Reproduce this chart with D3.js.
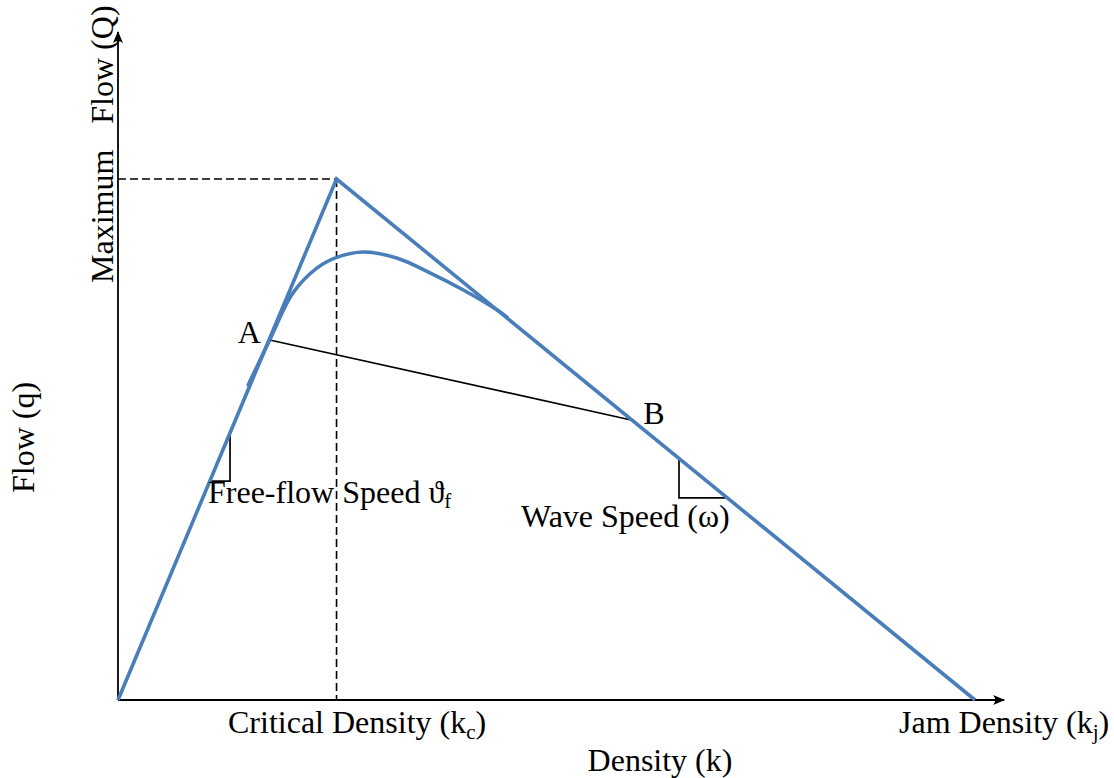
<!DOCTYPE html>
<html>
<head>
<meta charset="utf-8">
<script src="https://cdn.jsdelivr.net/npm/d3@7"></script>
<style>
  html, body { margin: 0; padding: 0; background: #fff; }
  svg text { font-family: "Liberation Serif", "Times New Roman", serif; fill: #000; }
</style>
</head>
<body>
<svg id="chart" width="1114" height="778"></svg>
<script>
// Triangular fundamental diagram (density k vs flow q)
const densityBreaks = [0, 25.5, 100];        // 0, critical density kc, jam density kj
const flowBreaks    = [0, 100, 0];           // flow at those densities (peak = maximum flow Q)

// Smooth (observed) flow-density curve
const curveDensity = [15.2, 17.7, 20.4, 23.2, 25.6, 28.6, 32.6, 36.4, 40.3, 44.2, 45.4];
const curveFlow    = [60.5, 69.1, 78.1, 82.9, 85.0, 86.0, 84.8, 82.0, 78.7, 74.9, 73.5];

// Shock line between states A and B
const stateNames   = ["A", "B"];
const stateDensity = [17.7, 60.0];
const stateFlow    = [69.1, 53.7];

// Slope markers: free-flow speed and wave speed
const slopeDensity = [13.07, 65.46];
const slopeFlow    = [42.0, 38.8];

const xLabel = "Density (k)";
const yLabel = "Flow (q)";
const qmaxLabel = ["Maximum", "Flow (Q)"];

const svg = d3.select("#chart");
const x = d3.scaleLinear().domain([0, 100]).range([118, 975]);
const y = d3.scaleLinear().domain([0, 100]).range([700, 179]);

const blue = "#4a7ebb";

// arrow markers
const defs = svg.append("defs");
defs.append("marker")
  .attr("id", "arrow")
  .attr("viewBox", "0 0 12 10")
  .attr("refX", 11).attr("refY", 5)
  .attr("markerWidth", 12).attr("markerHeight", 10)
  .attr("markerUnits", "userSpaceOnUse")
  .attr("orient", "auto")
  .append("path")
  .attr("d", "M0,0 L12,5 L0,10 Q4,5 0,0 Z")
  .attr("fill", "#000");

// axes
svg.append("line")
  .attr("x1", x(0)).attr("y1", y(0))
  .attr("x2", x(103.4)).attr("y2", y(0))
  .attr("stroke", "#000").attr("stroke-width", 1.8)
  .attr("marker-end", "url(#arrow)");
svg.append("line")
  .attr("x1", x(0)).attr("y1", y(0))
  .attr("x2", x(0)).attr("y2", y(128.2))
  .attr("stroke", "#000").attr("stroke-width", 1.8)
  .attr("marker-end", "url(#arrow)");

// dashed guides to the peak
const kc = densityBreaks[1], qm = flowBreaks[1];
svg.append("line")
  .attr("x1", x(0)).attr("y1", y(qm))
  .attr("x2", x(kc)).attr("y2", y(qm))
  .attr("stroke", "#000").attr("stroke-width", 1.6)
  .attr("stroke-dasharray", "8,4");
svg.append("line")
  .attr("x1", x(kc)).attr("y1", y(qm))
  .attr("x2", x(kc)).attr("y2", y(0))
  .attr("stroke", "#000").attr("stroke-width", 1.6)
  .attr("stroke-dasharray", "8,4");

// shock line A-B
svg.append("line")
  .attr("x1", x(stateDensity[0])).attr("y1", y(stateFlow[0]))
  .attr("x2", x(stateDensity[1])).attr("y2", y(stateFlow[1]))
  .attr("stroke", "#000").attr("stroke-width", 1.7);

// slope markers
const vf = flowBreaks[1] / densityBreaks[1];
const w = flowBreaks[1] / (densityBreaks[2] - densityBreaks[1]);
{
  const k0 = slopeDensity[0], q0 = slopeFlow[0];
  const kOnLine = q0 / vf;
  svg.append("path")
    .attr("d", d3.line()([[x(kOnLine), y(q0)], [x(k0), y(q0)], [x(k0), y(vf * k0)]]))
    .attr("fill", "none").attr("stroke", "#000").attr("stroke-width", 1.7);
}
{
  const k0 = slopeDensity[1], q0 = slopeFlow[1];
  const kOnLine = densityBreaks[2] - q0 / w;
  svg.append("path")
    .attr("d", d3.line()([[x(k0), y(w * (densityBreaks[2] - k0))], [x(k0), y(q0)], [x(kOnLine), y(q0)]]))
    .attr("fill", "none").attr("stroke", "#000").attr("stroke-width", 1.7);
}

// triangular diagram
svg.append("path")
  .datum(densityBreaks.map((k, i) => [k, flowBreaks[i]]))
  .attr("d", d3.line().x(d => x(d[0])).y(d => y(d[1])))
  .attr("fill", "none").attr("stroke", blue).attr("stroke-width", 3.6)
  .attr("stroke-linejoin", "miter");

// smooth curve
svg.append("path")
  .datum(curveDensity.map((k, i) => [k, curveFlow[i]]))
  .attr("d", d3.line().x(d => x(d[0])).y(d => y(d[1])).curve(d3.curveCatmullRom.alpha(0.5)))
  .attr("fill", "none").attr("stroke", blue).attr("stroke-width", 3.6)
  .attr("stroke-linecap", "round");

// text
const fs = 32, sub = 21;
svg.append("text").attr("x", x(stateDensity[0]) - 32).attr("y", y(stateFlow[0]) + 3)
  .attr("font-size", fs).text(stateNames[0]);
svg.append("text").attr("x", x(stateDensity[1]) + 11).attr("y", y(stateFlow[1]) + 4)
  .attr("font-size", fs).text(stateNames[1]);

const ff = svg.append("text").attr("x", 208).attr("y", 503).attr("font-size", fs);
ff.append("tspan").text("Free-flow Speed \u03D1");
ff.append("tspan").attr("font-size", sub).attr("dy", 5).text("f");

svg.append("text").attr("x", 521).attr("y", 527).attr("font-size", fs)
  .text("Wave Speed (\u03C9)");

const cd = svg.append("text").attr("x", 228).attr("y", 733).attr("font-size", fs);
cd.append("tspan").text("Critical Density (k");
cd.append("tspan").attr("font-size", sub).attr("dy", 6).text("c");
cd.append("tspan").attr("dy", -6).text(")");

const jd = svg.append("text").attr("x", 899).attr("y", 733).attr("font-size", fs);
jd.append("tspan").text("Jam Density (k");
jd.append("tspan").attr("font-size", sub).attr("dy", 6).text("j");
jd.append("tspan").attr("dy", -6).text(")");

svg.append("text").attr("x", 660).attr("y", 771).attr("font-size", fs)
  .attr("text-anchor", "middle").text(xLabel);

svg.append("text").attr("transform", "translate(34,493) rotate(-90)")
  .attr("font-size", fs).text(yLabel);

const qt = svg.append("text").attr("transform", "translate(113,283) rotate(-90)")
  .attr("font-size", fs);
qt.append("tspan").text(qmaxLabel[0]);
qt.append("tspan").attr("dx", 26).text(qmaxLabel[1]);
</script>
</body>
</html>
